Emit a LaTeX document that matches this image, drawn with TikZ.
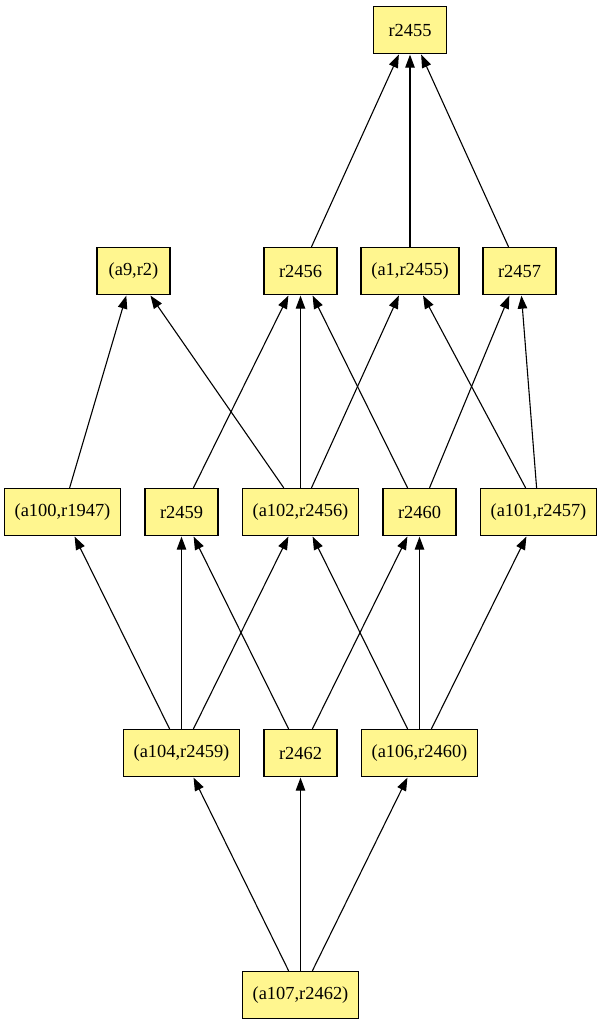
\documentclass[tikz,border=0pt]{standalone}
\usepackage{fontspec}
\setmainfont{Liberation Serif}
\definecolor{RevYellow}{HTML}{FFF68F}
\usetikzlibrary{positioning,arrows.meta}

\begin{document}
\begin{tikzpicture}[x=1bp, y=1bp, node distance=23.2bp,
    every node/.style={font=\fontsize{18.5}{22}\selectfont},
    rev/.style={draw=black, fill=RevYellow, line width=1.3bp, minimum width=73bp, minimum height=47bp, inner sep=2bp},
    wide/.style={rev, minimum width=116bp},
    dep/.style={-{Triangle[length=13bp,width=9.5bp]}, line width=1.1bp, shorten >=0.5bp}]
    \useasboundingbox (0,0) rectangle (601,-1025);
    \node[rev] (r2455) at (410,-30) {r2455};

    \node[rev] (a9r2) at (133.5,-271) {(a9,r2)};
    \node[rev] (r2456) at (300.5,-271) {r2456};
    \node[rev, minimum width=98bp, right=22.7bp of r2456] (a1r2455) {(a1,r2455)};
    \node[rev, right=22.7bp of a1r2455] (r2457) {r2457};

    \node[wide] (a100r1947) at (62.5,-512) {(a100,r1947)};
    \node[rev, right=of a100r1947] (r2459) {r2459};
    \node[wide, right=of r2459] (a102r2456) {(a102,r2456)};
    \node[rev, right=of a102r2456] (r2460) {r2460};
    \node[wide, right=of r2460] (a101r2457) {(a101,r2457)};

    \node[wide] (a104r2459) at (181.5,-753) {(a104,r2459)};
    \node[rev, right=of a104r2459] (r2462) {r2462};
    \node[wide, right=of r2462] (a106r2460) {(a106,r2460)};

    \node[wide] (a107r2462) at (300.5,-995) {(a107,r2462)};

    \draw[dep] (r2456) -- (r2455);
    \draw[dep] (a1r2455) -- (a1r2455 |- r2455.south);
    \draw[dep] (r2457) -- (r2455);

    \draw[dep] (a100r1947) -- (a9r2);
    \draw[dep] (a102r2456) -- (a9r2);
    \draw[dep] (r2459) -- (r2456);
    \draw[dep] (a102r2456) -- (a102r2456 |- r2456.south);
    \draw[dep] (r2460) -- (r2456);
    \draw[dep] (a102r2456) -- (a1r2455);
    \draw[dep] (a101r2457) -- (a1r2455);
    \draw[dep] (r2460) -- (r2457);
    \draw[dep] (a101r2457) -- (r2457);

    \draw[dep] (a104r2459) -- (a100r1947);
    \draw[dep] (a104r2459) -- (a104r2459 |- r2459.south);
    \draw[dep] (a104r2459) -- (a102r2456);
    \draw[dep] (r2462) -- (r2459);
    \draw[dep] (r2462) -- (r2460);
    \draw[dep] (a106r2460) -- (a102r2456);
    \draw[dep] (a106r2460) -- (a106r2460 |- r2460.south);
    \draw[dep] (a106r2460) -- (a101r2457);

    \draw[dep] (a107r2462) -- (a104r2459);
    \draw[dep] (a107r2462) -- (a107r2462 |- r2462.south);
    \draw[dep] (a107r2462) -- (a106r2460);
  \end{tikzpicture}
\end{document}
